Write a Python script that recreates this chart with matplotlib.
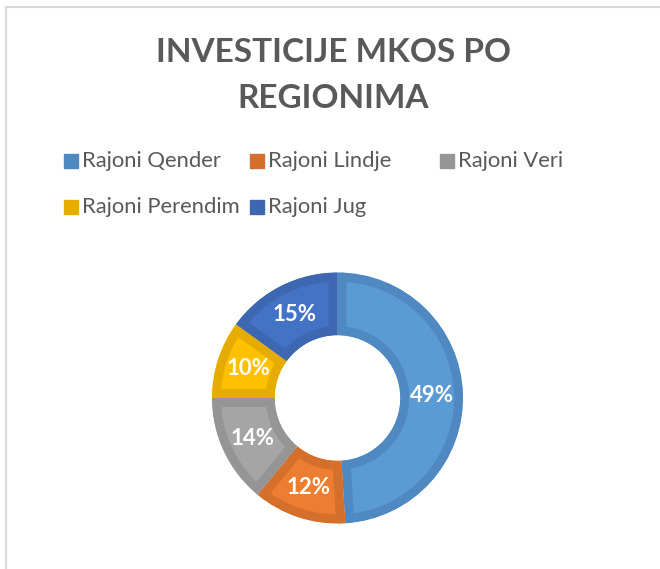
import matplotlib
matplotlib.use("Agg")
from matplotlib import pyplot as plt
from matplotlib.patches import Rectangle
from matplotlib.lines import Line2D

# data
regions = ['Rajoni Qender', 'Rajoni Lindje', 'Rajoni Veri', 'Rajoni Perendim', 'Rajoni Jug']
shares = [49, 12, 14, 10, 15]
fills = ['#5B9BD5', '#ED7D31', '#A5A5A5', '#FFC000', '#4472C4']
edges = ['#5089C2', '#D56F2C', '#959595', '#E6AC00', '#3E67B1']
title_lines = ['INVESTICIJE MKOS PO', 'REGIONIMA']

W, H = 660, 569
plt.rcParams['font.family'] = ['Lato', 'DejaVu Sans']
fig = plt.figure(figsize=(W / 100, H / 100), dpi=100)
fig.patch.set_facecolor('white')

# light frame on top and left like the Excel chart area
fig.add_artist(Line2D([6.5 / W, 6.5 / W], [0, 1 - 6.5 / H], color='#D9D9D9', lw=1.5))
fig.add_artist(Line2D([6.5 / W, 1], [1 - 6.5 / H, 1 - 6.5 / H], color='#D9D9D9', lw=1.5))

# title, two lines placed separately to get the Excel line gap
for yy, line in zip([50, 96.5], title_lines):
    fig.text(0.505, 1 - yy / H, line, ha='center', va='center_baseline', fontsize=24,
             fontweight='bold', color='#595959')

# legend, laid out by hand like the Excel one
leg_pos = [(64, 161), (250, 161), (440, 161), (64, 207), (250, 207)]
for (x, y), lab, col in zip(leg_pos, regions, edges):
    fig.add_artist(Rectangle((x / W, 1 - (y + 7) / H), 14 / W, 14 / H,
                             transform=fig.transFigure, color=col))
    fig.text((x + 18) / W, 1 - y / H, lab, ha='left', va='center',
             fontsize=15.8, color='#595959')

# donut
cx, cy, r = 337.5, 398, 125.5
ax = fig.add_axes([(cx - r) / W, 1 - (cy + r) / H, 2 * r / W, 2 * r / H])
wedges, texts, autotexts = ax.pie(shares, colors=fills, startangle=90, counterclock=False,
                                  radius=1, autopct='%d%%', pctdistance=0.75,
                                  wedgeprops=dict(width=0.5))
for w, ec in zip(wedges, edges):
    w.set_edgecolor(ec)
    w.set_linewidth(13)
    w.set_clip_on(True)
    w.set_clip_path(w)
for t in autotexts:
    t.set_color('white')
    t.set_fontsize(16)
    t.set_fontweight('bold')
ax.set_xlim(-1, 1)
ax.set_ylim(-1, 1)
ax.set_aspect('equal')
ax.axis('off')

plt.savefig('out.png', dpi=100)
